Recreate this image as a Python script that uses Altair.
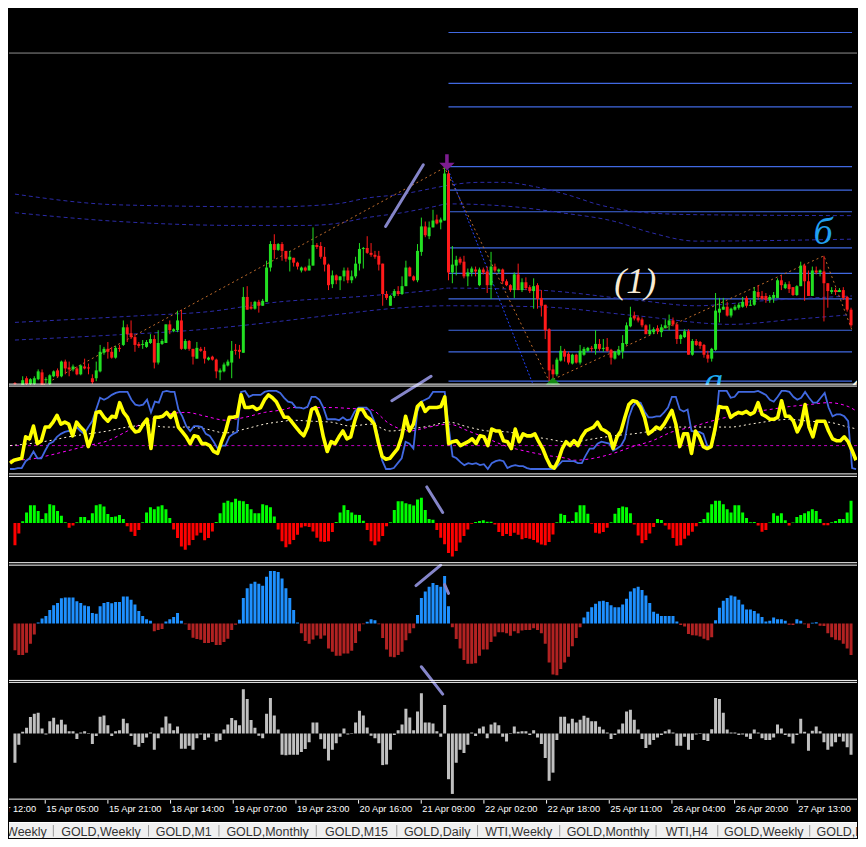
import altair as alt
import pandas as pd

W = 850
H_MAIN, H_OSC, H_H1, H_H2, H_H3, H_AX, H_TAB = 377, 90, 89, 118, 119, 22, 16
XDOM = [-0.25, 216.25]

# ---------------- candles (H1 bars, price in chart units) ----------------
OPEN = [1,-3,-2,6,0,0,5,12,4,0, 8,14,8,23,17,15,16,10,18,17, 6,6,13,32,36,33,27,37,40,58,
        52,48,41,40,38,42,46,22,41,42, 61,54,55,65,36,44,36,26,36,34, 25,28,25,12,13,19,22,35,35,32,
        89,79,77,84,80,84,119,143,137,143, 136,127,129,124,116,119,116,121,142,141,
        130,122,102,111,106,110,116,106,110,123, 138,139,134,132,131,123,92,80,90,95,
        92,100,119,110,106,135,161,151,160,168, 165,167,215,114,121,128,125,110,114,117,
        101,117,115,101,120,115,117,105,101,96, 112,96,104,99,95,101,88,81,56,15,
        10,24,34,31,21,30,22,30,34,37, 36,41,36,38,35,26,30,33,41,59,
        70,68,66,60,51,53,57,53,57,60, 65,61,46,48,54,30,44,43,40,30,
        26,35,73,76,79,70,76,78,79,88, 80,81,94,90,90,86,88,88,106,98,
        102,99,91,100,121,105,90,116,114,115, 103,94,96,94,96,89,76]
HIGH = [2,-1,8,8,6,8,15,15,7,10, 14,16,24,25,23,20,18,20,26,21, 10,23,40,38,43,38,39,40,65,61,
        65,51,43,45,45,51,50,55,46,61, 65,57,75,76,46,45,36,43,38,38, 28,29,26,16,22,25,44,41,40,99,
        100,84,85,86,87,126,146,153,144,145, 136,136,129,125,120,120,128,160,144,145,
        140,123,116,112,110,119,119,116,130,144, 140,151,144,136,136,123,95,91,97,100,
        110,126,120,111,143,170,166,166,178,173, 170,221,218,141,131,130,131,118,120,120,
        119,119,120,135,123,118,118,107,102,114, 123,108,109,101,108,103,96,81,57,20,
        27,39,36,33,31,31,40,38,38,39, 55,46,46,47,36,34,39,50,63,79,
        74,70,68,61,61,58,60,61,66,71, 68,62,51,56,56,46,46,44,41,34,
        37,93,88,88,84,78,81,83,89,90, 86,99,101,95,93,91,94,108,111,104,
        105,99,101,125,123,116,120,120,117,131, 103,99,98,98,99,90,78]
LOW = [-3,-8,-4,-3,-2,-2,4,-4,1,-2, 7,7,7,10,8,13,9,9,15,10, 0,3,12,30,26,26,26,33,39,43,
       46,33,37,36,37,41,16,20,40,42, 51,53,53,35,35,34,20,26,33,21, 24,24,6,4,12,18,6,30,26,32,
       76,76,76,73,80,84,115,128,136,126, 125,115,120,117,114,115,116,121,138,128,
       115,96,98,102,96,105,103,103,108,116, 118,133,130,128,116,80,86,80,88,90,
       91,100,110,105,104,131,150,148,160,163, 158,167,106,103,111,122,108,100,110,110,
       100,112,93,87,114,113,102,100,94,88, 96,94,96,93,77,77,69,46,3,4,
       8,23,23,20,20,21,20,29,33,33, 30,34,33,33,20,25,29,26,40,58,
       65,63,58,51,50,51,51,48,57,55, 59,41,41,47,30,29,39,36,27,22,
       23,34,63,76,69,68,75,76,78,78, 80,80,86,86,83,83,83,88,96,97,
       93,90,90,100,85,90,90,112,110,64, 78,92,91,94,86,74,58]
CLOSE = [0,-6,4,0,5,6,13,-2,5,9, 13,8,23,16,15,18,10,19,16,16, 2,14,33,36,33,27,37,36,58,51,
         48,40,39,41,43,46,22,42,44,61, 55,56,65,36,44,36,28,37,34,26, 27,25,13,14,20,23,34,34,33,89,
         76,77,84,80,85,119,143,137,143,136, 128,130,124,120,119,116,121,142,140,130,
         122,101,111,106,110,116,106,110,123,138, 139,134,132,130,122,92,88,90,95,92,
         100,119,110,106,136,161,152,160,167,164, 168,215,114,122,127,124,110,114,118,115,
         117,114,101,120,116,117,105,101,96,112, 96,104,98,95,100,87,80,55,14,10,
         25,34,28,22,30,22,34,36,37,36, 41,36,37,34,27,33,35,42,60,68,
         67,65,60,51,55,56,54,58,60,65, 61,46,50,54,30,44,40,39,30,26,
         36,75,77,79,70,77,79,81,84,80, 81,95,89,87,86,89,91,106,101,102,
         97,91,100,121,105,90,116,114,116,103, 95,96,94,96,88,76,60]

GRAY_LEVEL = [338]
FIB_LEVELS = [359, 307, 283, 222, 198, 176, 139, 113, 87, 55, 33, 3]
FIB_START = 112

BAND_UP1 = [(0,194),(27,183),(66,181),(83,184),(91,190),(100,194),(108,200),(112,203),(120,206),(126,206),
            (135,201),(143,193),(151,183),(163,175),(176,173),(216.25,172)]
BAND_UP2 = [(0,175),(27,166),(58,162),(75,162),(83,164),(91,170),(100,175),(108,181),(112,184),(129,181),
            (141,175),(155,166),(164,155),(176,146),(216.25,148)]
BAND_LO1 = [(0,63),(33,70),(50,74),(66,83),(91,90),(108,96),(112,98),(135,96),(160,86),(176,80),(193,85),(216.25,90)]
BAND_LO2 = [(0,45),(25,50),(46,55),(66,63),(83,71),(100,78),(112,80),(135,79),(160,70),(185,61),(201,66),(216.25,71)]

ZIGZAG = [(4,-8),(111,221),(138,3),(209,131),(216.25,55)]
BLUE_ZZ = [(111.5,223),(134,-2)]

# ---------------- oscillator panel ----------------
YELLOW = [10,13,14,15,37,35,48,30,33,47, 47,52,59,50,52,50,38,52,47,43, 27,38,62,63,57,53,58,57,72,62,
          57,47,42,43,50,55,25,57,57,58, 62,57,62,47,42,37,30,38,37,30, 30,28,22,20,32,42,57,57,58,80,
          67,67,68,65,67,75,80,77,73,65, 57,57,52,
          47,42,38,47,65,67,57,37,22,32, 30,37,43,35,37,53,65,65,58,55, 50,32,17,14,15,20,25,37,58,43,
          50,68,72,63,67,67,67,68,78,30, 32,33,28,30,32,35,30,38,37,28, 45,43,43,33,32,25,45,32,40,38,
          38,40,32,25,15,7,5,13,25,32, 28,33,
          28,37,43,45,47,52,45,43,40,25, 37,43,57,70,74,73,67,57,40,43, 47,45,50,57,64,50,27,40,40,20,
          43,37,27,25,27,45,68,67,67,57, 60,62,61,63,60,62,72,60,58,55, 55,57,74,58,58,53,42,50,70,47,
          37,53,53,53,43,35,33,33,37,32, 23,13]
BLUE = [4,4,5,5,12,15,22,15,15,23, 30,32,37,40,42,43,42,47,43,40, 47,53,65,77,75,77,80,82,83,83,
        83,75,70,69,70,75,62,73,72,83, 84,83,83,65,58,48,43,48,48,47, 40,38,32,25,28,28,37,40,42,83,
        84,78,80,80,80,83,84,84,84,82, 77,73,72,
        67,67,66,68,78,78,75,67,55,55, 55,54,57,54,55,63,67,67,67,63, 53,37,13,4,4,5,10,15,32,30,
        25,63,73,75,77,83,83,83,83,47, 17,15,11,8,10,9,10,8,9,4, 10,12,13,12,5,7,8,7,7,5,
        4,4,4,4,4,4,4,8,12,12, 12,12,
        10,10,18,25,25,30,32,31,30,23, 25,28,35,57,68,73,72,63,57,57, 58,58,62,67,78,78,65,63,65,43,
        42,42,40,28,27,40,84,84,84,77, 78,83,83,83,83,83,84,82,80,75, 73,78,84,84,83,78,75,77,83,77,
        72,72,77,82,67,58,60,60,58,53, 5,4]
MAGENTA = [(0,13),(5,14),(10,18),(15,23),(20,28),(25,33),(30,43),(35,53),(40,60),(45,62),(50,58),(55,54),
           (60,57),(65,62),(70,65),(72,67),(77,67),(82,67),(87,66),(92,65),(97,50),(102,43),(107,47),(112,50),
           (117,43),(122,35),(127,27),(132,22),(137,18),(142,15),(144,13),(149,15),(154,20),(159,27),(164,33),
           (169,42),(174,47),(179,53),(184,58),(189,62),(194,65),(199,68),(204,70),(209,72),(214,68),(216.25,63)]
WHITE = [(0,28),(5,30),(10,33),(15,37),(20,40),(25,43),(30,47),(35,49),(40,47),(45,47),(50,45),(55,41),
         (60,45),(65,50),(70,53),(72,54),(77,53),(82,52),(87,48),(92,50),(97,43),(102,45),(107,48),(112,52),
         (117,47),(122,43),(127,42),(132,38),(137,35),(142,32),(144,32),(149,35),(154,38),(159,40),(164,43),
         (169,47),(174,47),(179,47),(184,47),(189,50),(194,53),(199,55),(204,53),(209,52),(214,47),(216.25,45)]
OSC_LEVEL = [28]

# ---------------- histograms ----------------
HIST1 = [-22.7,-10.7,1.7,10.7,18,18,12.3,4,10,19, 18,12.3,7.3,0.7,-5,-2.7,0.7,6,6,2.7,
         10,18,19,16.7,9,6,6.7,8,4,-3.3, -9,-13.3,-7.3,0.7,10.7,16,14,16.7,18,14,
         5,-6.7,-15.3,-24,-27.3,-22.7,-17.3,-12.7,-10,-17.7, -15.3,-8.7,1,10,20.7,22.7,21,24.7,22.7,22,
         19.3,14,10,10,19,18,16,6.7,-6.7,-18.7, -24.7,-21.7,-17.3,-12,-4.7,-3.3,-4,-8.7,-15,-19,
         -19.3,-18.7,-9.3,1,10.7,18,13.3,10.7,8.3,8, 2.3,-7.3,-18.7,-22.7,-19,-13.3,-3.3,0.7,13.3,22,
         22,20,19,17.7,24,25.7,13.3,4,3.3,-7.3, -15,-21.7,-30.7,-34.3,-28.7,-20,-13.3,-6.7,-0.7,1,
         2,2.7,1.3,1.3,-1.7,-9.3,-13.3,-11.3,-13.3,-10, -12,-16.7,-15.3,-16,-17.3,-20,-22,-22.7,-19.3,-11.7,
         0.7,9.3,8,1.3,2,11,18,18,9.3,-0.7, -10,-10.7,-9.3,-5,0.7,9.3,15.3,16.7,16,10,
         -1.7,-12.7,-20.7,-17.3,-10.7,-4,4,3,-2.7,-6.7, -15.3,-23.3,-22.7,-16,-12.7,-9,-3.3,1,4,10.7,
         19,22.7,22.7,19,14,10.7,18,18,10.7,5, 0.7,1,-2.7,-9,-7.3,0.5,10,7.3,10,2.7,
         -2.7,0.5,6,8,10,12,14,12.3,4,-2.3, -2.3,0.7,2,4,4,10.7,22.7]
HIST2 = [-27.3,-32.3,-32.3,-30,-20.7,-11.3,1,5,7.7,13.7, 18.7,21,25.7,26.7,26.7,26.7,22.7,21,18.3,17.7,
         10.7,10,17.7,21,22,20.7,22,22,27.7,27.7, 24.3,19.3,12.7,7.7,4.3,2.7,-8,-6.7,-5.7,2,
         4.3,6.7,10.7,2.7,-0.7,-6.7,-14.7,-16,-16.7,-20, -20,-19,-22,-22,-19,-15.7,-6.7,-1.3,3.7,26,
         36,40.7,42.7,40.7,38.7,47.7,53.7,53.7,52.7,46, 36,26,13.7,1,-10,-18,-20.7,-16.3,-12.3,-15.7,
         -12.3,-25.7,-29,-33,-33,-30.7,-30.7,-28,-20,-8, -0.7,1.7,4.3,3.3,-0.7,-15,-26.7,-34,-34.7,-32.3,
         -29,-17.3,-10,-5,8.7,26,32.7,37.7,41.3,39.3, 37.7,48.7,17.7,-4,-16,-25.7,-37.3,-41.3,-41.3,-40.7,
         -33,-26.7,-26.7,-19,-13.3,-9,-9,-10,-12.7,-8, -10,-7.3,-6.7,-6.7,-5,-6.7,-10,-20.7,-40,-52.3,
         -53,-46.7,-40,-34,-23.3,-15,-4,6,12,16.7, 20.3,22.7,23.3,22,18.7,16.7,16.7,19.3,25.3,32.7,
         36,37.7,34.3,28.7,21,12,10,7.7,7.7,7.7, 7.7,2,-1.7,-3,-10.7,-12,-12.3,-13.3,-15.7,-17.3,
         -14,3.3,16,23.3,26,28.7,27.7,24.3,19.3,14.3, 14.3,12.7,10.3,6.7,2,2.7,6,4.3,4.3,2.7,
         -1.3,-1.7,4.3,2.7,-0.7,-4.7,0.7,1.3,-2.3,-2.7, -10,-14,-16.7,-17.3,-20.7,-25.7,-32.3]
HIST3 = [-30,-11.7,1.7,5.7,16.7,20,21,5,-1,12.3, 16,9,14,9,2.3,2.3,-5.7,1,2.3,-0.7,
         -10.7,-2.7,17,18.3,8.3,-2.7,2.3,3.3,15,10.3, -2.7,-11.7,-13.7,-9.7,-4.3,1,-16.7,-5,6,17.3,
         10,3.3,7,-15.7,-15.7,-12.7,-16.7,-5,-1,-6.7, -4.3,-0.3,-8.3,-6.7,4,9,15.7,13.3,8.3,45,
         35,13.7,5.7,-2.3,-5,20,36,18.3,4,-21.7, -22.3,-21.7,-21.7,-21.7,-19,-16,-9,11,11,-6,
         -15.7,-27.7,-16.7,-10,-3.3,5,-1,-0.7,11,23, 18.3,6,-2.3,-5,-10,-32.3,-31.7,-16.7,-1.7,3.3,
         9,25,16.3,3.3,22.3,41,11,11,10,2.3, -3.3,29,-46.7,-61.7,-30,-16.7,-20,-11.7,1,-2.7,
         5,7,-5,9,11,8.3,-3.3,-8.3,0.3,7, 1.7,2.3,2.3,-1.7,3.3,-4.3,-10.7,-25,-48.3,-40,
         -6.7,17,17,10,15,11,14,18,16,12.3, 12.3,6.7,4,1,-5.7,-1.7,4,10,22.3,24,
         14,4,-5.7,-15,-11.7,-6.7,-4.3,-1.7,2.3,4, 1,-12.7,-12.7,-3.3,-16.7,-6.7,-1,-0.7,-6.7,-7.7,
         4.3,36,35,21,4,1,1,-1.7,-1,-3.3, -5.7,4,1,-5,-6.7,-6.7,-4.3,9,5,-1.7,
         -3.3,-10.3,-1.7,15,1.7,-17.7,2.7,7,2.3,-9, -16.7,-13.3,-9,-3.3,-8.3,-14,-21.7]

# drawn trend-line objects (panel, id, bar, value)
SEGMENTS = [("main","A",95.75,161),("main","A",105.5,224),
            ("main","B",97.5,-17),("main","B",107.5,8),
            ("osc","B",97.5,74),("osc","B",107.5,99),
            ("h1","C",106.4,36.7),("h1","C",110.5,10.7),
            ("h2","D",103.6,38.7),("h2","D",110,59.7),
            ("h2","E",111,39.7),("h2","E",112,30.7),
            ("h2","F",105,-44.3),("h2","F",110.5,-72.3),
            ("h3","F",105,68),("h3","F",110.5,40)]

TICK_BARS = [-7, 9, 25, 41, 57, 73, 89, 105, 121, 137, 153, 169, 185, 201]
TICK_LABELS = ["14 Apr 12:00", "15 Apr 05:00", "15 Apr 21:00", "18 Apr 14:00", "19 Apr 07:00",
               "19 Apr 23:00", "20 Apr 16:00", "21 Apr 09:00", "22 Apr 02:00", "22 Apr 18:00",
               "25 Apr 11:00", "26 Apr 04:00", "26 Apr 20:00", "27 Apr 13:00"]

TAB_NAMES = ["GOLD,Weekly", "GOLD,Weekly", "GOLD,M1", "GOLD,Monthly", "GOLD,M15", "GOLD,Daily",
             "WTI,Weekly", "GOLD,Monthly", "WTI,H4", "GOLD,Weekly", "GOLD,M15"]
TAB_EDGES = [-49.3, 45.3, 142.5, 214.4, 313.8, 396.0, 478.5, 562.4, 660.8, 723.8, 817.7, 896.0]

GREEN, RED = "#22e022", "#ff1a1a"

# ---------------- helpers ----------------
def X():
    return alt.X("i:Q", scale=alt.Scale(domain=XDOM, nice=False, zero=False), axis=None)

def Y(field, dom):
    return alt.Y(field, scale=alt.Scale(domain=dom, nice=False, zero=False), axis=None)

def pairs(lst, name=None):
    df = pd.DataFrame(lst, columns=["i", "v"])
    if name is not None:
        df["k"] = name
    return df

def hline(levels, dom, color, **kw):
    return alt.Chart(pd.DataFrame({"v": levels})).mark_rule(color=color, **kw).encode(y=Y("v:Q", dom))

def seg_layer(panel, dom):
    df = pd.DataFrame([s for s in SEGMENTS if s[0] == panel], columns=["p", "k", "i", "v"])
    return alt.Chart(df).mark_line(color="#8585c9", strokeWidth=3, strokeCap="round", clip=True).encode(
        x=X(), y=Y("v:Q", dom), detail="k:N")

def hist_panel(vals, dom, pos_col, neg_col, top, bottom, h, panel):
    df = pd.DataFrame({"i": range(len(vals)), "v": vals, "z": 0.0})
    df["s"] = ["p" if v > 0 else "n" for v in vals]
    bars = alt.Chart(df).mark_bar(size=3, clip=True).encode(
        x=X(), y=Y("v:Q", dom), y2="z:Q",
        color=alt.Color("s:N", scale=alt.Scale(domain=["p", "n"], range=[pos_col, neg_col]), legend=None))
    return alt.layer(bars, seg_layer(panel, dom),
                     hline([top, bottom], dom, "#ffffff")).properties(width=W, height=h)

# ---------------- main panel ----------------
DM = [-1, 383]
cdf = pd.DataFrame({"i": range(len(CLOSE)), "o": OPEN, "h": HIGH, "l": LOW, "c": CLOSE})
cdf["d"] = ["up" if c >= o else "down" for o, c in zip(OPEN, CLOSE)]
ccol = alt.Color("d:N", scale=alt.Scale(domain=["up", "down"], range=[GREEN, RED]), legend=None)

fib = alt.Chart(pd.DataFrame({"v": FIB_LEVELS, "i": FIB_START, "i2": XDOM[1]})).mark_rule(
    color="#4169e1", strokeWidth=1.2).encode(x=X(), x2="i2:Q", y=Y("v:Q", DM))
gray = hline(GRAY_LEVEL, DM, "#8f8f8f")
bands_df = pd.concat([pairs(BAND_UP1, "u1"), pairs(BAND_UP2, "u2"), pairs(BAND_LO1, "l1"), pairs(BAND_LO2, "l2")])
bands = alt.Chart(bands_df).mark_line(color="#2b2ba8", strokeWidth=1, strokeDash=[4, 3],
                                      interpolate="monotone", clip=True).encode(x=X(), y=Y("v:Q", DM), detail="k:N")
zz = alt.Chart(pairs(ZIGZAG)).mark_line(color="#c06c2c", strokeWidth=1, strokeDash=[2, 3], clip=True).encode(
    x=X(), y=Y("v:Q", DM))
bzz = alt.Chart(pairs(BLUE_ZZ)).mark_line(color="#2244ff", strokeWidth=1, strokeDash=[2, 2], clip=True).encode(
    x=X(), y=Y("v:Q", DM))
wicks = alt.Chart(cdf).mark_rule(strokeWidth=1, clip=True).encode(x=X(), y=Y("l:Q", DM), y2="h:Q", color=ccol)
bodies = alt.Chart(cdf).mark_bar(size=3, clip=True).encode(x=X(), y=Y("o:Q", DM), y2="c:Q", color=ccol)

DOWN = "M-0.22,-1L0.22,-1L0.22,0.05L0.95,0.05L0,1L-0.95,0.05L-0.22,0.05Z"
UP = "M-0.22,1L0.22,1L0.22,-0.05L0.95,-0.05L0,-1L-0.95,-0.05L-0.22,-0.05Z"
arr_dn = alt.Chart(pd.DataFrame({"i": [111.6], "v": [226.5]})).mark_point(
    shape=DOWN, filled=True, size=260, color="#7d1d8f", opacity=1, clip=True).encode(x=X(), y=Y("v:Q", DM))
arr_up = alt.Chart(pd.DataFrame({"i": [139], "v": [-1]})).mark_point(
    shape=UP, filled=True, size=240, color="#138a13", opacity=1, clip=True).encode(x=X(), y=Y("v:Q", DM))

def label(txt, i, v, color, size, baseline="middle"):
    return alt.Chart(pd.DataFrame({"i": [i], "v": [v], "t": [txt]})).mark_text(
        font="Liberation Serif", fontStyle="italic", fontSize=size, color=color,
        baseline=baseline, align="center", clip=True).encode(x=X(), y=Y("v:Q", DM), text="t:N")

lab1 = label("(1)", 160.25, 104, "#f8ecd4", 36)
labb = label("б", 208.75, 154, "#22a0f0", 38)
laba = label("а", 180.5, -9, "#1eaaf0", 38, "alphabetic")
lab2 = label("(2)", 220.5, -19, "#f8ecd4", 36, "alphabetic")

main_bottom = hline([0], DM, "#ffffff")
main = alt.layer(gray, fib, bands, zz, bzz, wicks, bodies, seg_layer("main", DM), arr_dn, arr_up,
                 lab1, labb, laba, lab2, main_bottom).properties(width=W, height=H_MAIN)

# ---------------- oscillator panel ----------------
DO = [-2, 90]
odf = pd.DataFrame({"i": range(len(YELLOW)), "y": YELLOW, "b": BLUE})
o_lvl = hline(OSC_LEVEL, DO, "#c000c0", strokeDash=[3, 3])
o_mag = alt.Chart(pairs(MAGENTA)).mark_line(color="#ff00ff", strokeWidth=1, strokeDash=[3, 3],
                                            interpolate="monotone", clip=True).encode(x=X(), y=Y("v:Q", DO))
o_wht = alt.Chart(pairs(WHITE)).mark_line(color="#fff4dc", strokeWidth=1, strokeDash=[2, 3],
                                          interpolate="monotone", clip=True).encode(x=X(), y=Y("v:Q", DO))
o_blue = alt.Chart(odf).mark_line(color="#4169e1", strokeWidth=1.8, clip=True).encode(x=X(), y=Y("b:Q", DO))
o_yel = alt.Chart(odf).mark_line(color="#ffff00", strokeWidth=3.6, strokeJoin="round", clip=True).encode(
    x=X(), y=Y("y:Q", DO))
osc = alt.layer(o_lvl, o_mag, o_wht, o_blue, o_yel, seg_layer("osc", DO),
                hline([89, -1], DO, "#ffffff")).properties(width=W, height=H_OSC)

# ---------------- histogram panels ----------------
h1 = hist_panel(HIST1, [-41.5, 49], "#00ff00", "#ff0000", 47.5, -40.5, H_H1, "h1")
h2 = hist_panel(HIST2, [-59.3, 61.2], "#1e90ff", "#b22222", 59.7, -58.3, H_H2, "h2")
h3 = hist_panel(HIST3, [-68, 53], "#c0c0c0", "#c0c0c0", 52, -67, H_H3, "h3")

# ---------------- time axis ----------------
tdf = pd.DataFrame({"i": TICK_BARS, "t": TICK_LABELS})
tick_df = tdf[tdf["i"] >= XDOM[0]]          # only ticks that fall inside the window
ticks = alt.Chart(tick_df).mark_rule(color="#ffffff", clip=True).encode(x=X(), y=alt.value(0), y2=alt.value(3.5))
tlabels = alt.Chart(tdf).mark_text(align="left", baseline="middle", dx=1, color="#ffffff", fontSize=9.3,
                                   font="Liberation Sans", clip=True).encode(x=X(), y=alt.value(8.5), text="t:N")
axis_panel = alt.layer(ticks, tlabels).properties(width=W, height=H_AX)

# ---------------- tab bar ----------------
TX = alt.Scale(domain=[0, 866], nice=False, zero=False)
tabdf = pd.DataFrame({"x": [(a + b) / 2 for a, b in zip(TAB_EDGES[:-1], TAB_EDGES[1:])], "t": TAB_NAMES})
sepdf = pd.DataFrame({"x": TAB_EDGES[1:-1]})
tab_bg = alt.Chart(pd.DataFrame({"x": [0]})).mark_rect(color="#f0f0f0").encode(
    x=alt.value(0), x2=alt.value(W), y=alt.value(0), y2=alt.value(H_TAB))
tab_top = alt.Chart(pd.DataFrame({"x": [0]})).mark_rule(color="#ffffff").encode(
    x=alt.value(0), x2=alt.value(W), y=alt.value(0.5))
tab_sep = alt.Chart(sepdf).mark_rule(color="#9a9a9a").encode(
    x=alt.X("x:Q", scale=TX, axis=None), y=alt.value(3), y2=alt.value(14.5))
tab_txt = alt.Chart(tabdf).mark_text(font="Liberation Sans", fontSize=12.5, color="#333333",
                                     baseline="middle", clip=True).encode(
    x=alt.X("x:Q", scale=TX, axis=None), y=alt.value(9.5), text="t:N")
tabs = alt.layer(tab_bg, tab_top, tab_sep, tab_txt).properties(width=W, height=H_TAB)

chart = alt.vconcat(main, osc, h1, h2, h3, axis_panel, tabs, spacing=0, bounds="flush").resolve_scale(
    x="independent", y="independent", color="independent").properties(
    background="#000000", padding=0).configure_view(stroke="transparent", strokeWidth=0)

chart.save("out.html", embed_options={"renderer": "svg", "actions": False})
